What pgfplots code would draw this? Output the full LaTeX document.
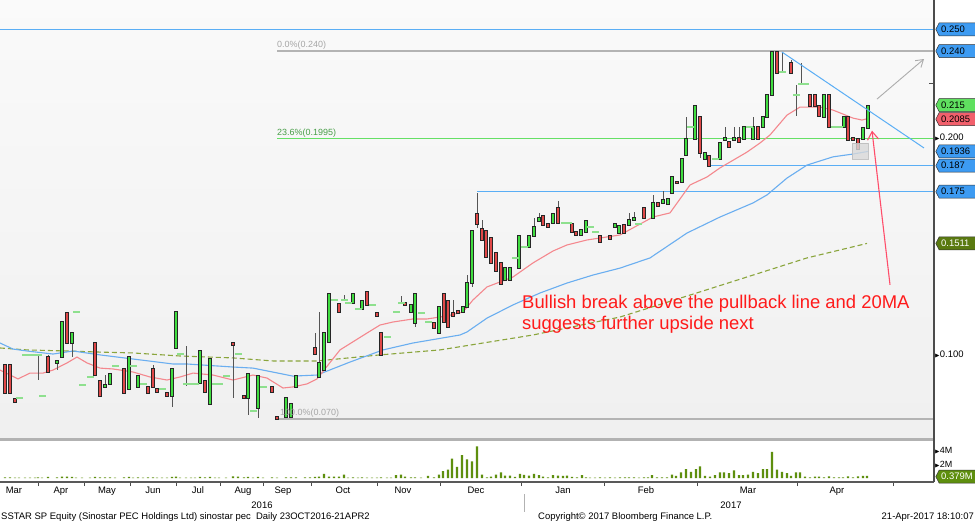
\documentclass[border=0pt]{standalone}
\usepackage{amssymb}
\usepackage{fontspec}
\setmainfont{Liberation Sans}
\usepackage{pgfplots}
\pgfplotsset{compat=1.18}
\usepackage{pgfplotstable}
\usetikzlibrary{shapes.symbols,arrows.meta}

\definecolor{cgreen}{HTML}{40DD40}
\definecolor{cred}{HTML}{E04848}
\definecolor{dashc}{HTML}{8EE08E}
\definecolor{wickc}{HTML}{555555}
\definecolor{ma20}{HTML}{F4888E}
\definecolor{ma50}{HTML}{6AAEF0}
\definecolor{ma200}{HTML}{8AA53C}
\definecolor{hblue}{HTML}{5AAEF5}
\definecolor{hgreen}{HTML}{66E066}
\definecolor{hgrey}{HTML}{B4B4B4}
\definecolor{lblue}{HTML}{3D9BF2}
\definecolor{lgreen}{HTML}{5FE05F}
\definecolor{lred}{HTML}{F2606C}
\definecolor{lolive}{HTML}{5A7A10}
\definecolor{volc}{HTML}{5E8F0E}
\definecolor{annred}{HTML}{FF1A1A}
\definecolor{arrred}{HTML}{FF4D6A}

% bullish candles: x open close high low
\pgfplotstableread{
x o c h l
57 0.0959 0.0968 0.0968 0.0926
62 0.0986 0.1148 0.1148 0.0986
72 0.1051 0.1097 0.1097 0.0986
105 0.0848 0.0857 0.0903 0.0848
110 0.0862 0.0908 0.0908 0.0862
129 0.0838 0.0986 0.0986 0.0838
138 0.0848 0.0898 0.0898 0.0848
172 0.0806 0.0931 0.0931 0.0755
176 0.1028 0.1194 0.1194 0.1028
200 0.0866 0.1014 0.1014 0.0866
210 0.0769 0.0977 0.0977 0.0769
248 0.0797 0.0908 0.0908 0.0718
258 0.0751 0.0898 0.0898 0.0705
286 0.0709 0.0797 0.0797 0.0709
291 0.0709 0.0769 0.0769 0.0709
296 0.0848 0.0898 0.0898 0.0848
319 0.0894 0.0959 0.1194 0.0894
324 0.0926 0.1097 0.1097 0.0926
329 0.1056 0.1277 0.1277 0.1056
353 0.1236 0.1277 0.1277 0.1236
362 0.1208 0.1245 0.1245 0.1208
411 0.1194 0.1227 0.1227 0.1194
415 0.1143 0.1277 0.1277 0.1125
439 0.1097 0.1217 0.1217 0.1097
463 0.1194 0.1217 0.1217 0.1194
467 0.1217 0.1328 0.1365 0.1217
472 0.1328 0.1568 0.1568 0.1310
505 0.1342 0.1397 0.1397 0.1342
510 0.1342 0.1397 0.1397 0.1342
519 0.1397 0.1545 0.1545 0.1397
529 0.1494 0.1545 0.1545 0.1494
534 0.1545 0.1587 0.1628 0.1545
539 0.1615 0.1628 0.1652 0.1615
553 0.1605 0.1647 0.1647 0.1605
581 0.1550 0.1573 0.1573 0.1550
586 0.1564 0.1615 0.1615 0.1564
615 0.1587 0.1601 0.1601 0.1587
619 0.1559 0.1592 0.1592 0.1559
629 0.1596 0.1619 0.1652 0.1596
634 0.1619 0.1628 0.1656 0.1619
653 0.1628 0.1698 0.1735 0.1628
663 0.1698 0.1712 0.1753 0.1698
668 0.1693 0.1716 0.1716 0.1693
672 0.1744 0.1818 0.1818 0.1744
682 0.1795 0.1901 0.1901 0.1795
686 0.1920 0.1993 0.2095 0.1920
695 0.1993 0.2146 0.2146 0.1993
705 0.1901 0.1929 0.1929 0.1901
720 0.1901 0.1975 0.1975 0.1901
725 0.1989 0.1998 0.2049 0.1989
734 0.1989 0.1998 0.2049 0.1989
744 0.1993 0.2049 0.2049 0.1993
753 0.1993 0.2049 0.2095 0.1993
763 0.2049 0.2095 0.2095 0.2049
767 0.2095 0.2197 0.2197 0.2095
772 0.2197 0.2395 0.2395 0.2197
824 0.2095 0.2197 0.2197 0.2095
844 0.2049 0.2095 0.2095 0.2049
863 0.1993 0.2044 0.2044 0.1993
868 0.2044 0.2146 0.2146 0.2044
}\greenc

% bearish candles: x open close high low
\pgfplotstableread{
x o c h l
5 0.0949 0.0820 0.0949 0.0820
10 0.0949 0.0820 0.0949 0.0820
15 0.0792 0.0778 0.0792 0.0778
48 0.0986 0.0917 0.0996 0.0917
67 0.1190 0.1051 0.1190 0.1051
95 0.1051 0.0903 0.1051 0.0903
100 0.0875 0.0806 0.0875 0.0806
124 0.0931 0.0820 0.0931 0.0820
148 0.0848 0.0820 0.0848 0.0820
153 0.0931 0.0848 0.0949 0.0848
157 0.0838 0.0825 0.0838 0.0825
167 0.0820 0.0806 0.0820 0.0806
205 0.0875 0.0825 0.0875 0.0825
233 0.1051 0.1042 0.1051 0.0797
244 0.0806 0.0797 0.0806 0.0797
272 0.0848 0.0825 0.0848 0.0825
277 0.0709 0.0700 0.0709 0.0700
315 0.1028 0.1000 0.1097 0.1000
339 0.1231 0.1194 0.1231 0.1194
367 0.1287 0.1227 0.1287 0.1227
377 0.1190 0.1176 0.1190 0.1176
381 0.1097 0.0996 0.1097 0.0996
405 0.1236 0.1227 0.1236 0.1227
434 0.1143 0.1120 0.1143 0.1120
444 0.1277 0.1148 0.1277 0.1148
448 0.1245 0.1125 0.1245 0.1125
453 0.1190 0.1176 0.1250 0.1171
458 0.1199 0.1190 0.1199 0.1190
477 0.1647 0.1601 0.1744 0.1582
482 0.1578 0.1527 0.1619 0.1527
486 0.1568 0.1448 0.1568 0.1448
491 0.1536 0.1421 0.1536 0.1421
496 0.1467 0.1384 0.1467 0.1384
501 0.1421 0.1324 0.1421 0.1324
543 0.1638 0.1596 0.1638 0.1596
548 0.1601 0.1587 0.1601 0.1587
558 0.1675 0.1605 0.1707 0.1605
572 0.1601 0.1564 0.1601 0.1564
576 0.1564 0.1550 0.1564 0.1550
600 0.1545 0.1518 0.1545 0.1518
610 0.1545 0.1531 0.1545 0.1531
624 0.1596 0.1559 0.1596 0.1559
644 0.1675 0.1628 0.1675 0.1628
658 0.1698 0.1684 0.1698 0.1684
677 0.1795 0.1790 0.1795 0.1790
700 0.2095 0.1929 0.2095 0.1906
709 0.1915 0.1869 0.1915 0.1869
729 0.1980 0.1956 0.1980 0.1956
739 0.1998 0.1980 0.2049 0.1980
758 0.2049 0.1993 0.2049 0.1993
777 0.2395 0.2298 0.2395 0.2298
791 0.2345 0.2298 0.2358 0.2298
810 0.2197 0.2146 0.2197 0.2146
815 0.2197 0.2146 0.2197 0.2146
819 0.2146 0.2100 0.2146 0.2100
829 0.2197 0.2049 0.2197 0.2049
848 0.2095 0.1989 0.2095 0.1989
853 0.1998 0.1989 0.1998 0.1989
858 0.1993 0.1947 0.1993 0.1947
}\redc

% flat sessions: x close high low
\pgfplotstableread{
x c h l
19 0.0797 0.0797 0.0797
25 0.0996 0.0996 0.0996
30 0.0996 0.0996 0.0996
35 0.0996 0.0996 0.0996
38 0.0996 0.0996 0.0880
42 0.0806 0.0806 0.0806
76 0.1194 0.1194 0.1194
82 0.0857 0.0857 0.0857
90 0.0894 0.0894 0.0894
115 0.0945 0.0945 0.0945
133 0.0945 0.0945 0.0945
143 0.0862 0.0862 0.0862
162 0.0838 0.0838 0.0838
180 0.1000 0.1000 0.1000
186 0.0862 0.1037 0.0852
191 0.0862 0.0862 0.0862
195 0.0862 0.0862 0.0862
215 0.0862 0.0862 0.0862
219 0.0862 0.0862 0.0862
226 0.0898 0.0898 0.0898
238 0.1000 0.1000 0.1000
253 0.0737 0.0737 0.0737
263 0.0848 0.0848 0.0848
334 0.1250 0.1250 0.1250
344 0.1250 0.1273 0.1250
348 0.1236 0.1236 0.1236
358 0.1208 0.1208 0.1208
372 0.1227 0.1227 0.1227
387 0.1079 0.1079 0.1079
396 0.1194 0.1194 0.1194
401 0.1236 0.1268 0.1236
421 0.1190 0.1190 0.1190
428 0.1148 0.1148 0.1148
515 0.1444 0.1444 0.1444
524 0.1494 0.1494 0.1494
564 0.1605 0.1605 0.1605
568 0.1605 0.1605 0.1605
590 0.1587 0.1587 0.1587
595 0.1564 0.1564 0.1564
638 0.1601 0.1601 0.1601
690 0.2049 0.2049 0.2049
715 0.1901 0.1901 0.1901
749 0.2049 0.2049 0.2049
782 0.2303 0.2395 0.2298
796 0.2197 0.2243 0.2100
801 0.2248 0.2345 0.2248
805 0.2248 0.2248 0.2248
834 0.2049 0.2049 0.2049
839 0.2049 0.2049 0.2049
}\flatc

\pgfplotstableread{
x v
5 0.1
10 0.1
15 0.05
19 0.05
25 0.05
30 0.05
35 0.05
38 0.1
42 0.05
48 0.15
57 0.1
62 0.2
67 0.2
72 0.15
76 0.05
82 0.05
90 0.05
95 0.15
100 0.1
105 0.1
110 0.1
115 0.05
124 0.1
129 0.15
133 0.05
138 0.1
143 0.05
148 0.1
153 0.1
157 0.05
162 0.05
167 0.05
172 0.15
176 0.2
180 0.05
186 0.05
191 0.05
195 0.05
200 0.15
205 0.1
210 0.15
215 0.05
219 0.05
226 0.05
233 0.25
238 0.2
244 0.1
248 0.15
253 0.05
258 0.15
263 0.05
272 0.1
277 0.05
286 0.1
291 0.1
296 0.1
305 0.1
310 0.1
315 0.15
319 0.2
324 0.6
329 0.2
334 0.2
339 0.2
344 0.5
348 0.05
353 0.08
358 0.05
362 0.08
367 0.05
372 0.05
377 0.05
381 0.08
387 0.05
391 0.05
396 0.4
401 0.5
405 0.2
411 0.08
415 0.08
421 0.05
428 0.3
434 0.1
439 0.5
443 1.0
448 1.2
452 2.8
457 1.6
462 3.3
467 2.7
472 2.4
477 4.6
482 0.5
487 0.1
491 0.2
496 0.5
501 0.8
505 0.35
510 0.35
515 0.15
520 0.6
524 0.45
529 0.35
534 0.6
539 0.4
543 0.2
548 0.1
553 0.4
558 0.35
563 0.3
567 0.35
572 0.15
577 0.1
582 0.4
586 0.1
590 0.05
595 0.05
600 0.1
605 0.05
610 0.1
615 0.05
620 0.1
625 0.1
629 0.1
634 0.1
639 0.05
644 0.1
648 0.1
652 0.4
657 0.1
662 0.1
667 0.1
672 0.5
676 0.3
681 0.8
686 1.3
691 0.9
696 1.3
700 1.7
705 0.3
710 0.2
715 0.4
720 0.8
724 0.8
729 0.7
734 1.1
739 0.4
743 0.4
748 0.5
753 0.9
758 0.7
763 1.3
767 1.3
772 3.8
777 1.2
782 0.9
787 0.7
791 0.3
796 0.8
800 0.8
805 0.2
810 0.1
815 0.2
819 0.2
824 0.1
829 0.25
834 0.1
839 0.1
843 0.1
848 0.25
853 0.1
858 0.25
863 0.3
867 0.3
}\volume

\newcommand{\tri}{{\fontsize{6}{6}\selectfont$\blacktriangleright$}}

\begin{document}
\begin{tikzpicture}[font=\fontsize{9.5}{11}\selectfont,
  lab/.style={signal, signal to=west, signal pointer angle=125, draw=black!80,
    line width=0.5bp, inner xsep=2bp, inner ysep=0.5bp, minimum height=13bp,
    text width=33bp, align=left, anchor=west, xshift=1.5bp,
    font=\fontsize{9.5}{10}\selectfont, text=black}]
\fill[white] (0,0) rectangle (975bp,-524bp);

% ---- price panel
\begin{axis}[
  at={(0,0)}, anchor=north west,
  scale only axis, width=934bp, height=437bp,
  xmin=0, xmax=934, ymin=0.061668, ymax=0.263562,
  clip=false,
  axis line style={draw=none},
  axis background/.style={top color=gray!4, bottom color=gray!12},
  xtick=\empty,
  ytick={0.1,0.2}, yticklabels={\tri 0.100,\tri 0.200},
  ytick pos=right, major tick length=0pt,
  yticklabel style={anchor=west, xshift=-3bp, font=\fontsize{9.5}{10}\selectfont},
  extra y ticks={0.225}, extra y tick labels={},
  extra y tick style={major tick length=5bp, tick style={draw=black!70}},
]
% horizontal levels
\addplot[hblue, line width=1.1bp] coordinates {(0,0.250) (934,0.250)};
\addplot[hgrey, line width=1.1bp] coordinates {(277,0.240) (934,0.240)};
\addplot[hgreen, line width=1.1bp] coordinates {(277,0.1995) (934,0.1995)};
\addplot[hgrey, line width=1.1bp] coordinates {(277,0.070) (934,0.070)};
\addplot[hblue, line width=1.1bp] coordinates {(710,0.187) (934,0.187)};
\addplot[hblue, line width=1.1bp] coordinates {(477,0.175) (934,0.175)};
% moving averages
\addplot[ma200, line width=1.1bp, dash pattern=on 5bp off 3bp] coordinates {
(0,0.1028) (27,0.1019) (67,0.1014) (100,0.1009) (133,0.1005) (180,0.0991)
(233,0.0982) (273,0.0968) (317,0.0968) (380,0.0996) (440,0.1019) (533,0.1088)
(620,0.1171) (700,0.1287) (807,0.1444) (867,0.1511)};
\addplot[ma50, line width=1.1bp] coordinates {
(0,0.1051) (13,0.1023) (27,0.1014) (53,0.1000) (73,0.1014) (100,0.0996)
(133,0.0977) (173,0.0954) (187,0.0954) (233,0.0940) (253,0.0935) (293,0.0898)
(317,0.0903) (350,0.0963) (383,0.1019) (413,0.1051) (460,0.1088) (467,0.1102)
(487,0.1166) (513,0.1227) (540,0.1282) (567,0.1328) (593,0.1365) (620,0.1397)
(650,0.1444) (687,0.1559) (720,0.1633) (753,0.1698) (767,0.1735) (787,0.1813)
(807,0.1873) (833,0.1911) (853,0.1924) (868,0.1936)};
\addplot[ma20, line width=1.1bp] coordinates {
(0,0.0926) (18,0.0885) (30,0.0912) (43,0.0912) (53,0.0926) (67,0.0959)
(77,0.0986) (87,0.0959) (100,0.0935) (113,0.0931) (133,0.0917) (150,0.0894)
(167,0.0880) (180,0.0894) (193,0.0912) (213,0.0903) (233,0.0880) (253,0.0903)
(267,0.0889) (283,0.0843) (293,0.0848) (307,0.0862) (317,0.0885) (340,0.1019)
(367,0.1097) (380,0.1134) (393,0.1148) (413,0.1162) (427,0.1162) (447,0.1176)
(463,0.1194) (473,0.1250) (487,0.1310) (500,0.1333) (513,0.1356) (533,0.1421)
(553,0.1476) (567,0.1504) (587,0.1527) (600,0.1536) (620,0.1550) (653,0.1633)
(670,0.1652) (690,0.1781) (707,0.1818) (720,0.1860) (747,0.1933) (760,0.1975)
(770,0.2012) (787,0.2104) (800,0.2141) (820,0.2141) (833,0.2127) (853,0.2090)
(862,0.2081) (868,0.2088)};
% wicks
\addplot[draw=none, error bars/.cd, y dir=both, y explicit, error mark=none,
  error bar style={draw=wickc, line width=0.8bp}]
  table[x=x, y expr={(\thisrow{h}+\thisrow{l})/2}, y error expr={(\thisrow{h}-\thisrow{l})/2}] {\greenc};
\addplot[draw=none, error bars/.cd, y dir=both, y explicit, error mark=none,
  error bar style={draw=wickc, line width=0.8bp}]
  table[x=x, y expr={(\thisrow{h}+\thisrow{l})/2}, y error expr={(\thisrow{h}-\thisrow{l})/2}] {\redc};
\addplot[draw=none, error bars/.cd, y dir=both, y explicit, error mark=none,
  error bar style={draw=wickc, line width=0.8bp}]
  table[x=x, y expr={(\thisrow{h}+\thisrow{l})/2}, y error expr={(\thisrow{h}-\thisrow{l})/2}] {\flatc};
% candle bodies
\addplot[draw=none, error bars/.cd, y dir=both, y explicit, error mark=none,
  error bar style={draw=black!85, line width=3.8bp}]
  table[x=x, y expr={(\thisrow{o}+\thisrow{c})/2}, y error expr={abs(\thisrow{c}-\thisrow{o})/2+0.0003}] {\greenc};
\addplot[draw=none, error bars/.cd, y dir=both, y explicit, error mark=none,
  error bar style={draw=cgreen, line width=2.4bp}]
  table[x=x, y expr={(\thisrow{o}+\thisrow{c})/2}, y error expr={max(abs(\thisrow{c}-\thisrow{o})/2-0.00005,0.00005)}] {\greenc};
\addplot[draw=none, error bars/.cd, y dir=both, y explicit, error mark=none,
  error bar style={draw=black!85, line width=3.8bp}]
  table[x=x, y expr={(\thisrow{o}+\thisrow{c})/2}, y error expr={abs(\thisrow{c}-\thisrow{o})/2+0.0003}] {\redc};
\addplot[draw=none, error bars/.cd, y dir=both, y explicit, error mark=none,
  error bar style={draw=cred, line width=2.4bp}]
  table[x=x, y expr={(\thisrow{o}+\thisrow{c})/2}, y error expr={max(abs(\thisrow{c}-\thisrow{o})/2-0.00005,0.00005)}] {\redc};
% flat sessions
\addplot[only marks, mark=-, mark size=3.5bp, mark options={draw=dashc, line width=1.3bp}]
  table[x=x, y=c] {\flatc};

% annotations
\addplot[hblue, line width=1bp] coordinates {(782,0.2395) (924,0.1952)};
\fill[gray!30, draw=gray!55, opacity=0.8] (axis cs:852,0.1975) rectangle (axis cs:868,0.1901);
\draw[gray!65, line width=0.9bp, -{Straight Barb[length=7bp, width=9bp]}] (axis cs:877,0.2178) -- (axis cs:924,0.2363);
\draw[arrred, line width=1.1bp, -{Straight Barb[length=8bp, width=11bp]}] (axis cs:890,0.1320) -- (axis cs:872,0.2032);
\node[anchor=south west, inner sep=1bp, text=gray!70, font=\fontsize{9}{10}\selectfont] at (axis cs:276,0.2400) {0.0\%(0.240)};
\node[anchor=south west, inner sep=1bp, text=hgreen!70!black, font=\fontsize{9}{10}\selectfont] at (axis cs:276,0.1995) {23.6\%(0.1995)};
\node[anchor=south west, inner sep=1bp, text=gray!70, font=\fontsize{9}{10}\selectfont] at (axis cs:279,0.0700) {100.0\%(0.070)};
\node[anchor=north west, align=left, inner sep=0pt, text=annred, font=\fontsize{18.5}{22}\selectfont] at (axis cs:522,0.1275)
  {Bullish break above the pullback line and 20MA\\suggests further upside next};

% right-hand value tags
\node[lab, fill=lblue] at (axis cs:934,0.250) {0.250};
\node[lab, fill=lblue] at (axis cs:934,0.240) {0.240};
\node[lab, fill=lgreen] at (axis cs:934,0.2150) {0.215};
\node[lab, fill=lred] at (axis cs:934,0.2085) {0.2085};
\node[lab, fill=lblue] at (axis cs:934,0.1936) {0.1936};
\node[lab, fill=lblue] at (axis cs:934,0.187) {0.187};
\node[lab, fill=lblue] at (axis cs:934,0.175) {0.175};
\node[lab, fill=lolive, text=white] at (axis cs:934,0.1511) {0.1511};
\end{axis}

% ---- volume panel
\begin{axis}[
  at={(0,-441bp)}, anchor=north west,
  scale only axis, width=934bp, height=41bp,
  xmin=0, xmax=934, ymin=-0.58, ymax=5.36,
  clip=false,
  axis line style={draw=none},
  ytick={2,4}, yticklabels={\tri 2M,\tri 4M},
  ytick pos=right, xtick pos=bottom,
  major tick length=0pt,
  yticklabel style={anchor=west, xshift=-3bp, font=\fontsize{9}{10}\selectfont},
  xtick={14,61,107,153,198,243,283,343,403,476,563,646,748,837},
  xticklabels={Mar,Apr,May,Jun,Jul,Aug,Sep,Oct,Nov,Dec,Jan,Feb,Mar,Apr},
  xticklabel style={font=\fontsize{9.5}{10}\selectfont, yshift=-1bp},
  extra x ticks={38,84,130,176,220,263,311,377,440,521,604,697,797,893},
  extra x tick labels={},
  extra x tick style={major tick length=4bp, tick align=outside, tick style={draw=black!70, line width=0.8bp}},
]
\addplot[ybar, bar width=2.2bp, fill=volc, draw=none] table[x=x, y=v] {\volume};
\draw[black!65, line width=1.2bp] (rel axis cs:0,0) -- (rel axis cs:1,0);
\node[lab, fill=volc, text=white, text width=34bp] at (axis cs:934,0.2) {0.379M};
\end{axis}

% frame pieces, year and footer
\fill[gray!60] (0,-437.5bp) rectangle (934bp,-440.5bp);
\draw[black!70, line width=1.2bp] (934bp,0) -- (934bp,-482bp);
\draw[gray!60, line width=0.8bp] (524bp,-494bp) -- (524bp,-512bp);
\node at (262bp,-505bp) {2016};
\node at (731bp,-505bp) {2017};
\node[anchor=west, inner sep=0pt] at (1bp,-517bp) {SSTAR SP Equity (Sinostar PEC Holdings Ltd) sinostar pec\ \ Daily 23OCT2016-21APR2};
\node[anchor=west, inner sep=0pt] at (538bp,-517bp) {Copyright© 2017 Bloomberg Finance L.P.};
\node[anchor=east, inner sep=0pt] at (974bp,-517bp) {21-Apr-2017 18:10:07};

\pgfresetboundingbox
\useasboundingbox (0,0) rectangle (975bp,-524bp);
\end{tikzpicture}
\end{document}
